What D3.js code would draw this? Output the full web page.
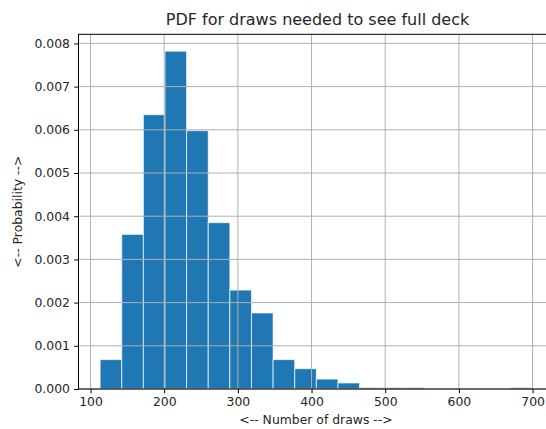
<!DOCTYPE html>
<html><head><meta charset="utf-8">
<script src="https://cdn.jsdelivr.net/npm/d3@7"></script>
<style>body{margin:0;background:#fff}svg{display:block}text{font-family:"DejaVu Sans",sans-serif;fill:#262626}</style>
</head><body><svg id="c" width="546" height="429"></svg>
<script>
// Histogram bin edges (20 bins) and density per bin
const binEdges = [113, 142.35, 171.7, 201.05, 230.4, 259.75, 289.1, 318.45, 347.8, 377.15, 406.5,
  435.85, 465.2, 494.55, 523.9, 553.25, 582.6, 611.95, 641.3, 670.65, 700];
const density = [0.00068, 0.00358, 0.00635, 0.00782, 0.00598, 0.00385, 0.00229, 0.00176, 0.00068, 0.00047,
  0.00023, 0.00014, 0.000034, 0.000034, 0.000034, 0, 0, 0, 0, 0.000034];
const xTicks = [100, 200, 300, 400, 500, 600, 700];
const yTicks = [0, 0.001, 0.002, 0.003, 0.004, 0.005, 0.006, 0.007, 0.008];
const title = "PDF for draws needed to see full deck";
const xLabel = "<-- Number of draws -->";
const yLabel = "<-- Probability -->";

const svg = d3.select("#c");
const L = 78.5, R = 554.2, T = 34.3, B = 389;
const span = binEdges[binEdges.length-1] - binEdges[0];
const x = d3.scaleLinear().domain([binEdges[0] - 0.05*span, binEdges[binEdges.length-1] + 0.05*span]).range([L, R]);
const y = d3.scaleLinear().domain([0, d3.max(density)*1.05]).range([B, T]);

const bins = density.map((d, i) => ({x0: binEdges[i], x1: binEdges[i+1], v: d}));
svg.append("g").selectAll("rect").data(bins).join("rect")
  .attr("x", d => x(d.x0)).attr("width", d => x(d.x1) - x(d.x0))
  .attr("y", d => y(d.v)).attr("height", d => B - y(d.v))
  .attr("fill", "#1f77b4").attr("stroke", "#ffffff").attr("stroke-width", 1).attr("stroke-opacity", 0.7);

// grid (drawn above bars, like matplotlib's default axisbelow='line')
const grid = svg.append("g").attr("stroke", "#b0b0b0").attr("stroke-width", 1);
xTicks.forEach(t => grid.append("line").attr("x1", x(t)).attr("x2", x(t)).attr("y1", T).attr("y2", B));
yTicks.forEach(t => grid.append("line").attr("x1", L).attr("x2", R).attr("y1", y(t)).attr("y2", y(t)));

// axes
const xAxis = svg.append("g").attr("transform", `translate(0,${B})`)
  .call(d3.axisBottom(x).tickValues(xTicks).tickSize(4.3).tickPadding(4.3).tickFormat(d3.format("d")));
const yAxis = svg.append("g").attr("transform", `translate(${L},0)`)
  .call(d3.axisLeft(y).tickValues(yTicks).tickSize(4.3).tickPadding(4.3).tickFormat(d3.format(".3f")));
[xAxis, yAxis].forEach(a => {
  a.selectAll("path.domain").remove();
  a.selectAll("line").attr("stroke", "#000").attr("stroke-width", 1);
  a.selectAll("text").style("font-size", "12.4px").style("font-family", "DejaVu Sans").attr("fill", "#262626");
});
// spines
const sp = svg.append("g").attr("stroke", "#000").attr("stroke-width", 1).attr("fill", "none");
sp.append("rect").attr("x", L).attr("y", T).attr("width", R - L).attr("height", B - T);

svg.append("text").attr("x", 317.5).attr("y", 25).attr("text-anchor", "middle").style("font-size", "16px").text(title);
svg.append("text").attr("x", 316).attr("y", 424).attr("text-anchor", "middle").style("font-size", "12.4px").text(xLabel);
svg.append("text").attr("transform", `translate(22,${(T+B)/2}) rotate(-90)`).attr("text-anchor", "middle").style("font-size", "12.4px").text(yLabel);
</script></body></html>
